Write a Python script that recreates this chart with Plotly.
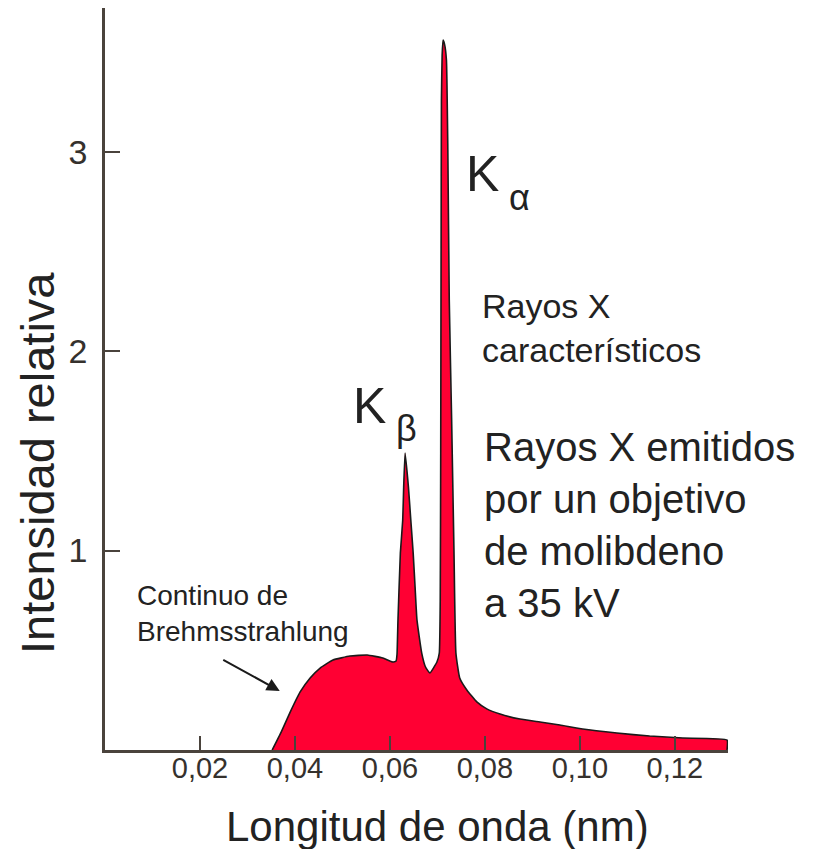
import plotly.graph_objects as go

# Espectro de rayos X de un ánodo de molibdeno a 35 kV
wavelength_nm = [
    0.0352, 0.0371, 0.0389, 0.0411, 0.0432, 0.0453, 0.0480, 0.0516, 0.0552, 0.0585, 0.0606, 0.0613,
    # K-beta
    0.0615, 0.0617, 0.0622, 0.0627, 0.0629, 0.0632, 0.0639, 0.0644, 0.0649, 0.0653, 0.0657, 0.0667,
    0.0675, 0.0684,
    # K-alpha
    0.0699, 0.0704, 0.0706, 0.0707, 0.07078, 0.07085, 0.0710, 0.0712, 0.0715, 0.0719, 0.0722, 0.0725,
    0.0730, 0.0735, 0.0739,
    # cola del continuo
    0.0747, 0.0762, 0.0783, 0.0804, 0.0832, 0.0874, 0.0916, 0.0958, 0.1006, 0.1078, 0.1147, 0.1217,
    0.1310, 0.1310,
]
intensity = [
    0.0, 0.090, 0.185, 0.291, 0.361, 0.411, 0.451, 0.471, 0.476, 0.461, 0.441, 0.446,
    0.481, 0.652, 0.987, 1.153, 1.318, 1.489, 1.318, 1.153, 0.987, 0.817, 0.652, 0.486,
    0.416, 0.386,
    0.441, 0.486, 0.752, 1.504, 2.506, 3.258, 3.484, 3.559, 3.539, 3.459, 3.008, 2.256,
    1.654, 0.987, 0.486,
    0.361, 0.301, 0.241, 0.206, 0.180, 0.155, 0.140, 0.125, 0.105, 0.085, 0.070, 0.060,
    0.050, 0.0,
]

x_tick_vals = [0.02, 0.04, 0.06, 0.08, 0.10, 0.12]
x_tick_text = ["0,02", "0,04", "0,06", "0,08", "0,10", "0,12"]
y_tick_vals = [1, 2, 3]
y_tick_text = ["1", "2", "3"]

FONT = "Liberation Sans, Arial, Helvetica, sans-serif"
TEXT = "#222222"
AXIS = "#4a433c"

fig = go.Figure()
fig.add_trace(go.Scatter(
    x=wavelength_nm, y=intensity,
    mode="lines",
    line=dict(color="#1a1a1a", width=1.6, shape="spline", smoothing=0.4),
    fill="toself", fillcolor="#FF0033",
    hoverinfo="skip", showlegend=False,
))

annotations = [
    # etiquetas de las líneas características
    dict(x=0.0794, y=2.887, text="K", font=dict(size=50)),
    dict(x=0.0872, y=2.77, text="α", font=dict(size=36)),
    dict(x=0.0558, y=1.724, text="K", font=dict(size=50)),
    dict(x=0.0634, y=1.614, text="β", font=dict(size=36)),
    dict(x=0.0789, y=2.33, text="Rayos X<br>característicos", font=dict(size=34),
         xanchor="left", yanchor="top", align="left"),
    dict(x=0.0794, y=1.64, text="Rayos X emitidos<br>por un objetivo<br>de molibdeno<br>a 35 kV",
         font=dict(size=40), xanchor="left", yanchor="top", align="left"),
    dict(x=0.0063, y=0.86, text="Continuo de<br>Brehmsstrahlung", font=dict(size=28),
         xanchor="left", yanchor="top", align="left"),
    # títulos de los ejes
    dict(x=(437 - 105) / 623, y=-76 / 742, xref="paper", yref="paper",
         text="Longitud de onda (nm)", font=dict(size=42)),
    dict(x=-68 / 623, y=(750 - 463) / 742, xref="paper", yref="paper",
         text="Intensidad relativa", font=dict(size=47), textangle=-90),
]
for a in annotations:
    a.setdefault("xref", "x")
    a.setdefault("yref", "y")
    a.setdefault("showarrow", False)
    a.setdefault("xanchor", "center")
    a.setdefault("yanchor", "middle")
    a["font"] = dict(family=FONT, color=TEXT, **a["font"])

# flecha hacia el continuo
annotations.append(dict(
    x=0.0368, y=0.296, xref="x", yref="y", ax=-58, ay=-32,
    showarrow=True, arrowhead=2, arrowsize=1.3, arrowwidth=2, arrowcolor="#1a1a1a", text="",
))

fig.update_layout(
    width=830, height=849,
    margin=dict(l=105, r=102, t=8, b=99),
    paper_bgcolor="white", plot_bgcolor="white",
    font=dict(family=FONT, color=TEXT),
    annotations=annotations,
    xaxis=dict(
        range=[0, 0.1312], showgrid=False, zeroline=False,
        showline=True, linecolor=AXIS, linewidth=2.5,
        ticks="inside", ticklen=14, tickwidth=2, tickcolor=AXIS,
        tickvals=x_tick_vals, ticktext=x_tick_text,
        tickfont=dict(size=29, color="#35312d"), ticklabelstandoff=-10,
    ),
    yaxis=dict(
        range=[0, 3.72], showgrid=False, zeroline=False,
        showline=True, linecolor=AXIS, linewidth=2.5,
        ticks="inside", ticklen=15, tickwidth=2, tickcolor=AXIS,
        tickvals=y_tick_vals, ticktext=y_tick_text,
        tickfont=dict(size=34, color="#35312d"), ticklabelstandoff=8,
    ),
)

fig.write_html("out.html")
